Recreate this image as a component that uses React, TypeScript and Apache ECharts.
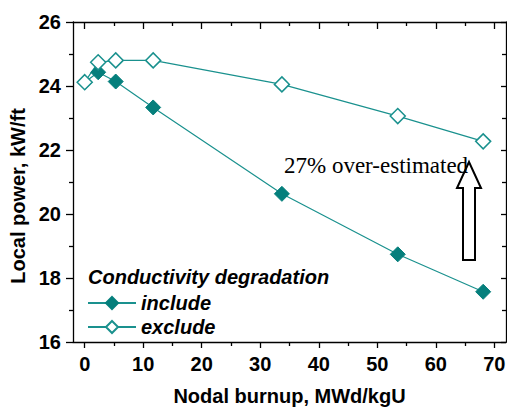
import React, { useEffect, useRef } from "react";
import * as echarts from "echarts";

const burnup = [0, 2.3, 5.3, 11.7, 33.7, 53.5, 68.1];
const includeValues = [24.12, 24.43, 24.14, 23.33, 20.63, 18.74, 17.57];
const excludeValues = [24.12, 24.74, 24.8, 24.8, 24.05, 23.06, 22.27];
const xMajorTicks = [0, 10, 20, 30, 40, 50, 60, 70];
const xMinorTicks = [5, 15, 25, 35, 45, 55, 65];
const seriesNames = ["include", "exclude"];
const legendTitle = "Conductivity degradation";
const yTitle = "Local power, kW/ft";
const xTitle = "Nodal burnup, MWd/kgU";
const annotation = "27% over-estimated";

const TEAL = "#057f7c";
const LINE = "#1a918e";
const FONT = "Liberation Sans, Arial, sans-serif";

export default function App() {
  const ref = useRef<HTMLDivElement>(null);
  useEffect(() => {
    if (!ref.current) return;
    const chart = echarts.init(ref.current, undefined, { renderer: "svg" });
    const labelFont = { fontFamily: FONT, fontWeight: "bold" as const, fontSize: 20, color: "#000" };
    const tickStyle = { color: "#000", width: 1.3 };
    const axisLine = { show: true, onZero: false, lineStyle: { color: "#000", width: 1.3 } };
    const noLine = { show: false, onZero: false };
    const baseX = { type: "value" as const, min: -2, max: 72, splitLine: { show: false } };
    const baseY = { type: "value" as const, min: 16, max: 26, interval: 2, splitLine: { show: false } };
    chart.setOption({
      animation: false,
      backgroundColor: "#fff",
      grid: { left: 73, top: 22, right: 1, bottom: 66, containLabel: false, outerBoundsMode: "none" },
      xAxis: [
        {
          ...baseX,
          position: "bottom",
          axisLine,
          axisTick: { show: true, inside: false, length: 6, customValues: xMajorTicks, lineStyle: tickStyle },
          axisLabel: { ...labelFont, margin: 12, customValues: xMajorTicks },
          name: xTitle,
          nameLocation: "middle",
          nameGap: 44,
          nameTextStyle: { ...labelFont },
        },
        {
          ...baseX,
          position: "bottom",
          axisLine: noLine,
          axisTick: { show: true, inside: false, length: 4, customValues: xMinorTicks, lineStyle: tickStyle },
          axisLabel: { show: false },
        },
        {
          ...baseX,
          position: "top",
          axisLine,
          axisTick: { show: true, inside: true, length: 7, customValues: xMajorTicks, lineStyle: tickStyle },
          axisLabel: { show: false },
        },
        {
          ...baseX,
          position: "top",
          axisLine: noLine,
          axisTick: { show: true, inside: true, length: 4, customValues: xMinorTicks, lineStyle: tickStyle },
          axisLabel: { show: false },
        },
      ],
      yAxis: [
        {
          ...baseY,
          position: "left",
          axisLine,
          axisTick: { show: true, inside: false, length: 7, lineStyle: tickStyle },
          minorTick: { show: true, splitNumber: 2, length: 4, lineStyle: tickStyle },
          axisLabel: { ...labelFont, margin: 12 },
        },
        {
          ...baseY,
          position: "right",
          axisLine,
          axisTick: { show: true, inside: true, length: 5, lineStyle: tickStyle },
          minorTick: { show: true, splitNumber: 2, length: 4, lineStyle: tickStyle },
          axisLabel: { show: false },
        },
      ],
      legend: {
        orient: "vertical",
        left: 87,
        top: 293,
        padding: 0,
        itemWidth: 48,
        itemHeight: 15,
        itemGap: 4,
        textStyle: { fontFamily: FONT, fontWeight: "bold", fontStyle: "italic", fontSize: 20, color: "#000" },
        data: seriesNames,
      },
      series: [
        {
          name: seriesNames[0],
          type: "line",
          xAxisIndex: 0,
          yAxisIndex: 0,
          data: burnup.map((b, i) => [b, includeValues[i]]),
          symbol: "diamond",
          symbolSize: 15,
          lineStyle: { color: LINE, width: 1.2 },
          itemStyle: { color: TEAL, borderColor: TEAL, borderWidth: 1 },
        },
        {
          name: seriesNames[1],
          type: "line",
          xAxisIndex: 0,
          yAxisIndex: 0,
          data: burnup.map((b, i) => [b, excludeValues[i]]),
          symbol: "diamond",
          symbolSize: 15,
          lineStyle: { color: LINE, width: 1.2 },
          itemStyle: { color: "#fff", borderColor: LINE, borderWidth: 1.5 },
        },
      ],
      graphic: [
        {
          type: "text",
          x: 18,
          y: 196,
          rotation: Math.PI / 2,
          style: { text: yTitle, fontFamily: FONT, fontWeight: "bold", fontSize: 20, fill: "#000", align: "center", verticalAlign: "middle" },
        },
        {
          type: "text",
          x: 88,
          y: 277,
          style: { text: legendTitle, fontFamily: FONT, fontWeight: "bold", fontStyle: "italic", fontSize: 20, fill: "#000", verticalAlign: "middle" },
        },
        {
          type: "text",
          x: 284,
          y: 165,
          style: { text: annotation, fontFamily: "Liberation Serif, Times New Roman, serif", fontSize: 23, fill: "#000", verticalAlign: "middle" },
        },
        {
          type: "polygon",
          shape: { points: [[469, 162], [481, 188], [475, 188], [475, 260], [463, 260], [463, 188], [457, 188]] },
          style: { fill: "none", stroke: "#000", lineWidth: 2 },
          z: 10,
        },
      ],
    });
    return () => chart.dispose();
  }, []);
  return <div ref={ref} style={{ width: 507, height: 408, position: "absolute", left: 0, top: 0 }} />;
}
